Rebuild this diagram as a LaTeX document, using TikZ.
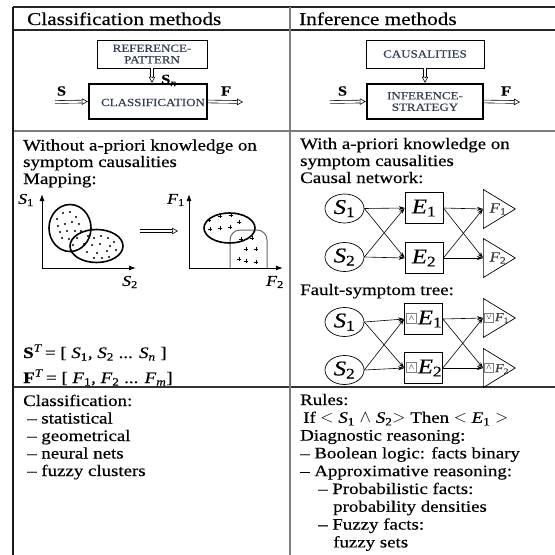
\documentclass[tikz,border=0pt]{standalone}
\usepackage{fontspec}
\setmainfont{Liberation Serif}[FakeStretch=1.18, FakeBold=0.35]
\usetikzlibrary{arrows.meta,shapes.geometric,calc}
\definecolor{boxtxt}{RGB}{50,62,84}
\definecolor{rulegray}{RGB}{125,125,125}
\newcommand\ssub[2]{\textit{#1}\textsubscript{#2}}
\newcommand\dblarr[2]{\draw[dblshaft] #1 -- ($#2!6pt!#1$); \draw[hollowtip] ($#2!6pt!#1$) -- #2;}
\begin{document}
\begin{tikzpicture}[x=1pt,y=-1pt,
  body/.style={anchor=base west, inner sep=0pt, font=\fontsize{16}{18}\selectfont},
  head/.style={anchor=base west, inner sep=0pt, font=\fontsize{18}{20}\selectfont},
  blk/.style={draw, line width=0.7pt, align=center, inner sep=0pt, text=boxtxt, font=\fontsize{11}{11.5}\selectfont},
  thickblk/.style={blk, line width=2.4pt},
  boxtext/.style={inner sep=0pt, text=boxtxt, font=\fontsize{11}{11.5}\selectfont},
  lbl/.style={inner sep=0pt, font=\fontsize{14}{14}\selectfont\bfseries},
  plbl/.style={inner sep=0pt, font=\fontsize{15}{15}\selectfont},
  dblshaft/.style={double, double distance=2.2pt, line width=0.6pt},
  hollowtip/.style={-{Triangle[open,length=6pt,width=6.5pt]}, line width=0.6pt},
  axis/.style={line width=1pt, -{Latex[length=7pt,width=5pt]}},
  blob/.style={line width=1.6pt},
  sell/.style={draw, ellipse, line width=0.7pt, minimum width=39pt, minimum height=29pt, inner sep=0pt, font=\fontsize{21}{21}\selectfont},
  ebox/.style={draw, line width=0.7pt, minimum width=38pt, minimum height=31pt, inner sep=0pt, font=\fontsize{21}{21}\selectfont},
  etxt/.style={inner sep=0pt, font=\fontsize{21}{21}\selectfont},
  tri/.style={draw, isosceles triangle, isosceles triangle stretches, minimum width=39pt, minimum height=32pt, inner sep=0pt, line width=0.7pt, anchor=west},
  flbl/.style={inner sep=0pt, text=black!75, font=\fontsize{14}{14}\selectfont},
  flbls/.style={inner sep=0pt, text=black!75, font=\fontsize{12}{12}\selectfont},
  gate/.style={draw=gray, line width=0.6pt, fill=white, minimum size=10pt, inner sep=0pt, font=\fontsize{8}{8}\selectfont},
  net/.style={-{Stealth[length=6pt,width=4pt]}, line width=0.6pt},
  plus/.style={line width=0.5pt}
]
\useasboundingbox (0,0) rectangle (555,555);
\fill[white] (0,0) rectangle (555,555);

% table rules
\draw[line width=1.2pt, black!85] (13,7) -- (555,7);
\draw[line width=1.2pt, black!85] (13,30) -- (555,30);
\draw[line width=1.2pt, rulegray] (13,131) -- (555,131);
\draw[line width=1.2pt, black!80] (13,387) -- (555,387);
\draw[line width=1.6pt, black!90] (13,7) -- (13,555);
\draw[line width=1.2pt, rulegray] (290,7) -- (290,555);

% headers
\node[head] (h1) at (27,25) {Classification methods};
\node[head] (h2) at (299,25) {Inference methods};

% top left block diagram
\node[blk, minimum width=110pt, minimum height=28pt] (ref) at (152,54) {REFERENCE-\\PATTERN};
\node[thickblk, minimum width=118pt, minimum height=35pt] (cls) at (148,101.5) {};
\node[boxtext] (clsT) at (153,102.5) {CLASSIFICATION};
\coordinate (sin) at (55,102);
\coordinate (fout) at (243,102);
\coordinate (clsTop) at (ref.south |- cls.north);
\dblarr{(sin)}{(cls.west)}
\dblarr{(cls.east)}{(fout)}
\dblarr{(ref.south)}{(clsTop)}
\node[lbl] (lS) at (61.5,91) {S};
\node[lbl] (lF) at (226,91) {F};
\node[lbl, anchor=base west] (lSn) at (161,84) {S\textsubscript{\normalfont\itshape n}};

% top right block diagram
\node[blk, minimum width=118pt, minimum height=28pt] (caus) at (425,54) {CAUSALITIES};
\node[thickblk, minimum width=116pt, minimum height=35pt] (inf) at (425,101.5) {INFERENCE-\\STRATEGY};
\coordinate (sin2) at (330,102);
\coordinate (fout2) at (520,102);
\coordinate (infTop) at (caus.south |- inf.north);
\dblarr{(sin2)}{(inf.west)}
\dblarr{(inf.east)}{(fout2)}
\dblarr{(caus.south)}{(infTop)}
\node[lbl] (lS2) at (342.5,91) {S};
\node[lbl] (lF2) at (506,91) {F};

% row 2 left
\node[body] (w1) at (23,150.5) {Without a-priori knowledge on};
\node[body] (w2) at (23,167) {symptom causalities};
\node[body] (w3) at (23,184) {Mapping:};

% plot 1
\coordinate (o1) at (42,268);
\coordinate (y1) at (42,194);
\coordinate (x1) at (136,268);
\draw[axis] (o1) -- (y1);
\draw[axis] (o1) -- (x1);
\node[plbl] (ls1) at (26,200) {\ssub{S}{1}};
\node[plbl] (ls2) at (130,282) {\ssub{S}{2}};
\draw[blob] (70,228) ellipse [x radius=21, y radius=23.5];
\draw[blob] (96.5,246) ellipse [x radius=26.5, y radius=16.5];
\foreach \p in {(57,219),(63,213),(70,212),(76,217),(58,226),(65,224),(72,222),(79,224),(60,232),(67,231),(75,231),(81,231),(62,238),(69,239),(77,238),(73,245)}
  \fill \p circle (1.1pt);
\foreach \p in {(88,236),(94,238),(101,236),(108,238),(114,242),(84,244),(92,245),(100,244),(110,246),(87,252),(97,253),(107,251),(116,250),(94,258),(102,258),(109,257)}
  \fill \p circle (1.1pt);

% mapping arrow
\coordinate (ma) at (140,231);
\coordinate (mb) at (178,231);
\dblarr{(ma)}{(mb)}

% plot 2
\coordinate (o2) at (189,268);
\coordinate (y2) at (189,194);
\coordinate (x2) at (283,268);
\draw[axis] (o2) -- (y2);
\draw[axis] (o2) -- (x2);
\node[plbl] (lf1) at (176,200) {\ssub{F}{1}};
\node[plbl] (lf2) at (275,282) {\ssub{F}{2}};
\draw[line width=1pt, black!60, rounded corners=10pt] (230,268) -- (230,230) -- (267,230) -- (267,268);
\draw[blob] (229.5,228) ellipse [x radius=25.5, y radius=15];
\foreach \p in {(209,220),(220,216),(231,215),(239,222),(230,227),(220,228),(210,229),(241,239),(252,238),(246,249),(256,249),(239,259),(246,261),(256,262)}
  \draw[plus] \p ++(-2.3,0) -- ++(4.6,0) \p ++(0,-2.3) -- ++(0,4.6);

% vectors
\node[body] (st) at (23,358) {\textbf{S}\textsuperscript{\textit{T}}\,= [ \ssub{S}{1}, \ssub{S}{2} ... \ssub{S}{\textit{n}} ]};
\node[body] (ft) at (23,383) {\textbf{F}\textsuperscript{\textit{T}}\,= [ \ssub{F}{1}, \ssub{F}{2} ... \ssub{F}{\textit{m}}]};

% row 2 right
\node[body] (r1) at (300,149) {With a-priori knowledge on};
\node[body] (r2) at (300,166) {symptom causalities};
\node[body] (r3) at (300,183) {Causal network:};

% causal network
\node[sell] (cS1) at (344.5,208.5) {\ssub{S}{1}};
\node[sell] (cS2) at (344.5,257) {\ssub{S}{2}};
\node[ebox] (cE1) at (424,208) {\ssub{E}{1}};
\node[ebox] (cE2) at (424,258) {\ssub{E}{2}};
\node[tri] (cF1) at (483,209) {};
\node[tri] (cF2) at (483,258) {};
\node[flbl] (cF1t) at (498,209) {\ssub{F}{1}};
\node[flbl] (cF2t) at (498,258) {\ssub{F}{2}};
\draw[net] (cS1.east) -- (cE1.west);
\draw[net] (cS1.east) -- (cE2.west);
\draw[net] (cS2.east) -- (cE1.west);
\draw[net] (cS2.east) -- (cE2.west);
\draw[net] (cE1.east) -- (cF1.west);
\draw[net] (cE1.east) -- (cF2.west);
\draw[net] (cE2.east) -- (cF1.west);
\draw[net] (cE2.east) -- (cF2.west);

% fault-symptom tree
\node[body] (r4) at (300,295) {Fault-symptom tree:};
\node[sell] (tS1) at (344.5,322) {\ssub{S}{1}};
\node[sell] (tS2) at (344.5,370) {\ssub{S}{2}};
\node[ebox] (tE1) at (423.5,319) {};
\node[ebox] (tE2) at (423.5,368) {};
\node[gate] (gE1) at (411.5,318) {$\wedge$};
\node[gate] (gE2) at (411.5,367) {$\wedge$};
\node[etxt] (tE1t) at (430,319) {\ssub{E}{1}};
\node[etxt] (tE2t) at (430,368) {\ssub{E}{2}};
\node[tri] (tF1) at (483,318) {};
\node[tri] (tF2) at (483,368) {};
\node[gate, minimum size=9pt] (gF1) at (489,317.5) {$\vee$};
\node[gate, minimum size=9pt] (gF2) at (489,367.5) {$\wedge$};
\node[flbls] (tF1t) at (502,318) {\ssub{F}{1}};
\node[flbls] (tF2t) at (502,369) {\ssub{F}{2}};
\draw[net] (tS1.east) -- (tE1.west);
\draw[net] (tS1.east) -- (tE2.west);
\draw[net] (tS2.east) -- (tE1.west);
\draw[net] (tS2.east) -- (tE2.west);
\draw[net] (tE1.east) -- (tF1.west);
\draw[net] (tE1.east) -- (tF2.west);
\draw[net] (tE2.east) -- (tF1.west);
\draw[net] (tE2.east) -- (tF2.west);

% row 3 left
\node[body] (c1) at (23,406) {Classification:};
\node[body] (c2) at (27,423.5) {-- statistical};
\node[body] (c3) at (27,441) {-- geometrical};
\node[body] (c4) at (27,458.5) {-- neural nets};
\node[body] (c5) at (27,476) {-- fuzzy clusters};

% row 3 right
\node[body] (d1) at (300,405) {Rules:};
\node[body] (d2) at (303,422.8) {If $<$ \ssub{S}{1} $\wedge$ \ssub{S}{2}$>$ Then $<$ \ssub{E}{1} $>$};
\node[body] (d3) at (300,440.6) {Diagnostic reasoning:};
\node[body] (d4) at (300,458.4) {-- Boolean logic: facts binary};
\node[body] (d5) at (300,476.2) {-- Approximative reasoning:};
\node[body] (d6) at (318,494) {-- Probabilistic facts:};
\node[body] (d7) at (333,511.8) {probability densities};
\node[body] (d8) at (318,529.6) {-- Fuzzy facts:};
\node[body] (d9) at (333,547.4) {fuzzy sets};
\end{tikzpicture}
\end{document}
